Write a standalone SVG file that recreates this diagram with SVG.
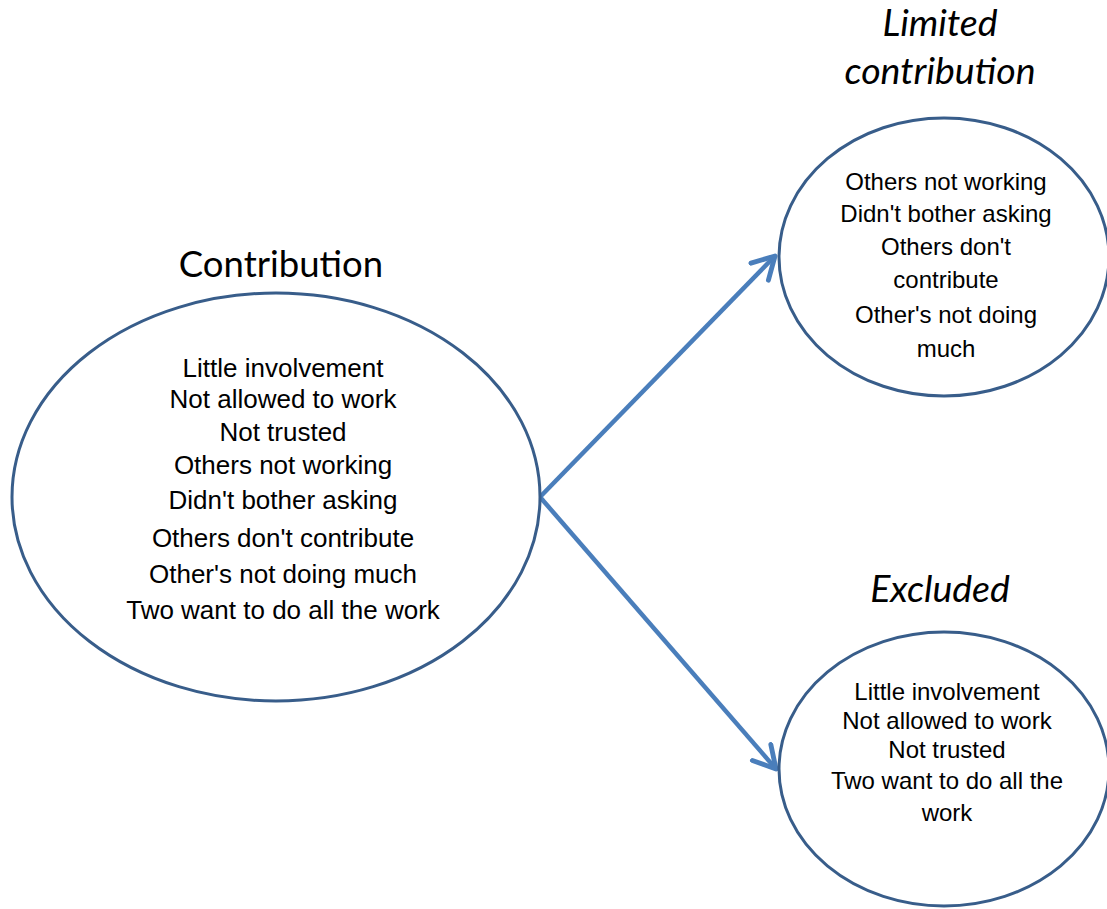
<svg xmlns="http://www.w3.org/2000/svg" width="1107" height="909" viewBox="0 0 1107 909">
<defs>
<style>
.node{fill:#fff;stroke:#385D8A;stroke-width:3}
.title{font-family:Lato,"Open Sans",sans-serif;font-size:36.5px;fill:#000;text-anchor:middle}
.it{font-style:italic;font-size:37.5px}
.body{font-family:"Liberation Sans",Arial,sans-serif;fill:#000;text-anchor:middle}
.big{font-size:26px}
.small{font-size:24px}
.conn{stroke:#4A7EBB;stroke-width:4.5;fill:none}
</style>
<marker id="arr" viewBox="0 0 12 12" refX="10" refY="6" markerWidth="6.5" markerHeight="6.5" orient="auto" markerUnits="strokeWidth">
<path d="M1,1 L10,6 L1,11" fill="none" stroke="#4A7EBB" stroke-width="2" stroke-linecap="round" stroke-linejoin="round"/>
</marker>
</defs>
<rect width="1107" height="909" fill="#fff"/>
<g id="connectors">
<line class="conn" x1="540" y1="497" x2="775" y2="256" marker-end="url(#arr)"/>
<line class="conn" x1="540" y1="497" x2="776" y2="769" marker-end="url(#arr)"/>
</g>
<g id="contribution">
<ellipse class="node" cx="276" cy="497" rx="264" ry="204"/>
<text class="title" x="281" y="277">Contribution</text>
<g class="body big">
<text x="283" y="377">Little involvement</text>
<text x="283" y="408">Not allowed to work</text>
<text x="283" y="441">Not trusted</text>
<text x="283" y="474">Others not working</text>
<text x="283" y="509">Didn't bother asking</text>
<text x="283" y="547">Others don't contribute</text>
<text x="283" y="583">Other's not doing much</text>
<text x="283" y="619">Two want to do all the work</text>
</g>
</g>
<g id="limited">
<ellipse class="node" cx="944" cy="257" rx="165" ry="139"/>
<text class="title it" x="940" y="36">Limited</text>
<text class="title it" x="940" y="84">contribution</text>
<g class="body small">
<text x="946" y="190">Others not working</text>
<text x="946" y="222">Didn't bother asking</text>
<text x="946" y="255">Others don't</text>
<text x="946" y="288">contribute</text>
<text x="946" y="323">Other's not doing</text>
<text x="946" y="357">much</text>
</g>
</g>
<g id="excluded">
<ellipse class="node" cx="944" cy="769" rx="165" ry="137"/>
<text class="title it" x="940" y="602">Excluded</text>
<g class="body small">
<text x="947" y="700">Little involvement</text>
<text x="947" y="729">Not allowed to work</text>
<text x="947" y="758">Not trusted</text>
<text x="947" y="789">Two want to do all the</text>
<text x="947" y="821">work</text>
</g>
</g>
</svg>
